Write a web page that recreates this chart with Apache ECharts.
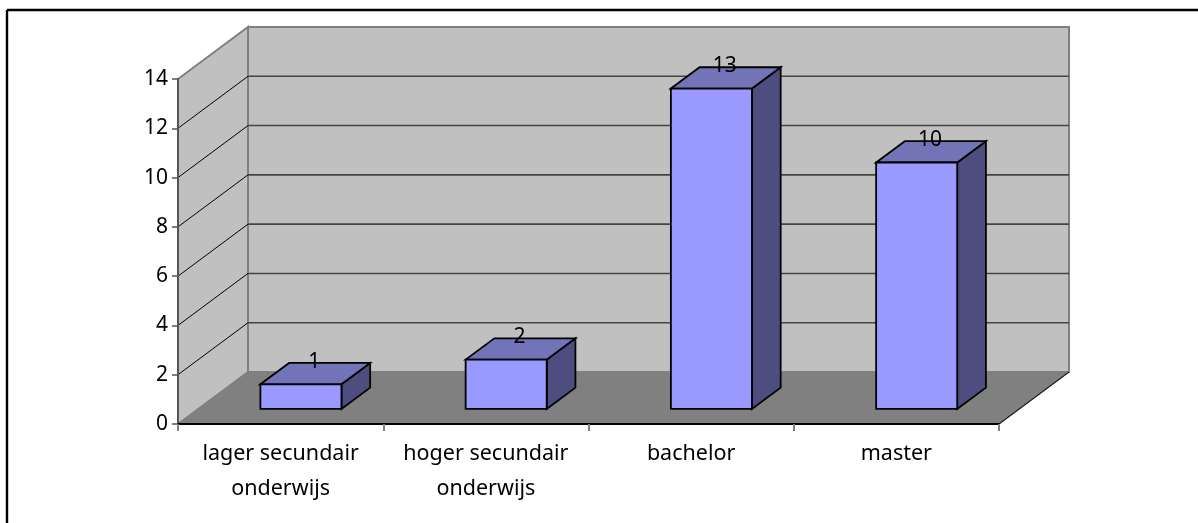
<!DOCTYPE html>
<html>
<head>
<meta charset="utf-8">
<title>Opleidingsniveau</title>
<script src="https://cdn.jsdelivr.net/npm/echarts@6/dist/echarts.min.js"></script>
<style>
    html, body { margin: 0; padding: 0; background: #fff; }
    #chart { width: 1198px; height: 523px; }
</style>
</head>
<body>
<div id="chart"></div>
<script>
const categories = ['lager secundair\nonderwijs', 'hoger secundair\nonderwijs', 'bachelor', 'master'];
const values = [1, 2, 13, 10];
const gridValues = [2, 4, 6, 8, 10, 12];

const FONT = '"Noto Sans", sans-serif';
const DEPTH_X = 70;
const DEPTH_Y = -52;
// bars sit between these fractions of the floor depth
const BAR_FRONT = 0.29;
const BAR_BACK = 0.70;
const BAR_WIDTH = 0.395;

const chart = echarts.init(document.getElementById('chart'), null, { renderer: 'canvas' });

function poly(points, fill, stroke, width) {
    return {
        type: 'polygon',
        shape: { points: points },
        style: { fill: fill, stroke: stroke, lineWidth: width, lineJoin: 'miter' }
    };
}

function seg(x1, y1, x2, y2, stroke, width) {
    return {
        type: 'line',
        shape: { x1: x1, y1: y1, x2: x2, y2: y2 },
        style: { stroke: stroke, lineWidth: width }
    };
}

// side wall, back wall and floor
function renderWalls(params, api) {
    const box = params.coordSys;
    const left = box.x;
    const right = box.x + box.width;
    const top = api.coord([0, api.value(0)])[1];
    const bottom = api.coord([0, 0])[1];
    const backLeft = left + DEPTH_X;
    const backRight = right + DEPTH_X;
    const backTop = top + DEPTH_Y;
    const backBottom = bottom + DEPTH_Y;
    return {
        type: 'group',
        children: [
            poly([[left, top], [backLeft, backTop], [backLeft, backBottom], [left, bottom]], '#c0c0c0', '#808080', 2),
            poly([[backLeft, backTop], [backRight, backTop], [backRight, backBottom], [backLeft, backBottom]], '#c0c0c0', '#808080', 2),
            poly([[left, bottom], [backLeft, backBottom], [backRight, backBottom], [right, bottom]], '#808080', '#808080', 1),
            seg(right, bottom, backRight, backBottom, '#222', 1.2)
        ]
    };
}

// a gridline runs over the side wall and then along the back wall
function renderGridLine(params, api) {
    const box = params.coordSys;
    const y = api.coord([0, api.value(0)])[1];
    return {
        type: 'group',
        children: [
            seg(box.x, y, box.x + DEPTH_X, y + DEPTH_Y, '#000', 1),
            seg(box.x + DEPTH_X, y + DEPTH_Y, box.x + box.width + DEPTH_X, y + DEPTH_Y, '#444', 1.6)
        ]
    };
}

function renderBar(params, api) {
    const idx = api.value(0);
    const val = api.value(1);
    const band = api.size([1, 0])[0];
    const center = api.coord([idx, 0])[0];
    const base = api.coord([idx, 0])[1];
    const high = api.coord([idx, val])[1];
    const w = band * BAR_WIDTH;
    const x0 = center - w / 2 + DEPTH_X * BAR_FRONT;
    const x1 = x0 + w;
    const y0 = base + DEPTH_Y * BAR_FRONT;
    const yTop = high + DEPTH_Y * BAR_FRONT;
    const dx = DEPTH_X * (BAR_BACK - BAR_FRONT);
    const dy = DEPTH_Y * (BAR_BACK - BAR_FRONT);
    return {
        type: 'group',
        children: [
            poly([[x1, yTop], [x1 + dx, yTop + dy], [x1 + dx, y0 + dy], [x1, y0]], '#4d4d80', '#000', 1.8),
            poly([[x0, yTop], [x0 + dx, yTop + dy], [x1 + dx, yTop + dy], [x1, yTop]], '#7373b8', '#000', 1.8),
            poly([[x0, yTop], [x1, yTop], [x1, y0], [x0, y0]], '#9999ff', '#000', 1.8),
            {
                type: 'text',
                z2: 10,
                style: {
                    x: (x0 + x1) / 2 + dx / 2 - 1,
                    y: yTop + dy - 1,
                    text: String(val),
                    align: 'center',
                    verticalAlign: 'middle',
                    fill: '#000',
                    font: '21px ' + FONT
                }
            }
        ]
    };
}

chart.setOption({
    animation: false,
    backgroundColor: '#fff',
    graphic: [
        { type: 'line', shape: { x1: 7, y1: 10, x2: 1198, y2: 10 }, style: { stroke: '#000', lineWidth: 2.4 } },
        { type: 'line', shape: { x1: 7, y1: 10, x2: 7, y2: 523 }, style: { stroke: '#000', lineWidth: 2.4 } }
    ],
    grid: { left: 178, right: 199, top: 79, bottom: 99 },
    xAxis: {
        type: 'category',
        data: categories,
        z: 5,
        axisLine: { lineStyle: { color: '#000', width: 2 } },
        axisTick: { show: true, length: 7, alignWithLabel: false, lineStyle: { color: '#808080', width: 2 } },
        axisLabel: {
            color: '#000',
            fontFamily: FONT,
            fontSize: 21.5,
            lineHeight: 35,
            margin: 12,
            interval: 0
        }
    },
    yAxis: {
        type: 'value',
        min: 0,
        max: 14,
        interval: 2,
        z: 5,
        splitLine: { show: false },
        axisLine: { show: true, lineStyle: { color: '#555', width: 2 } },
        axisTick: { show: true, length: 6, lineStyle: { color: '#555', width: 1.5 } },
        axisLabel: {
            color: '#000',
            fontFamily: FONT,
            fontSize: 21,
            margin: 10
        }
    },
    series: [
        { type: 'custom', silent: true, z: 1, clip: false, renderItem: renderWalls, data: [[14]], encode: { y: 0 } },
        { type: 'custom', silent: true, z: 2, clip: false, renderItem: renderGridLine, data: gridValues.map(v => [v]), encode: { y: 0 } },
        { type: 'custom', silent: true, z: 3, clip: false, renderItem: renderBar, data: values.map((v, i) => [i, v]), encode: { x: 0, y: 1 } }
    ]
});

window.addEventListener('resize', () => {
    chart.resize();
});
</script>
</body>
</html>
